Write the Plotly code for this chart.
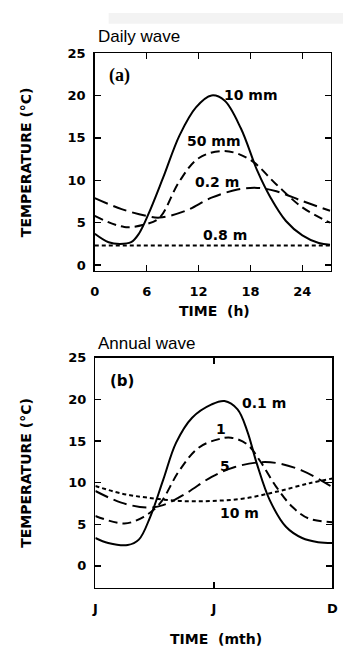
import plotly.graph_objects as go

W, H = 349, 651

# ---------------- Data: daily wave (hours, °C) ----------------
d10mm_x = [0, 1.6, 2.9, 4.2, 5.1, 6.2, 7.9, 9.8, 11.7, 13.5, 15.0, 16.9, 18.8, 20.3, 22.1, 24.0, 25.9, 27.2]
d10mm_y = [3.7, 2.7, 2.5, 2.7, 3.7, 6.0, 10.3, 15.3, 18.6, 20.0, 19.4, 16.1, 11.1, 8.0, 5.2, 3.5, 2.6, 2.4]

d50mm_x = [0, 3.4, 6.0, 7.5, 9.8, 12.0, 15.0, 18.0, 21.0, 24.0, 27.2]
d50mm_y = [5.8, 4.5, 4.85, 5.6, 9.9, 12.6, 13.45, 12.4, 9.5, 6.8, 5.0]

d02m_x = [0, 3.1, 6.0, 7.5, 10.5, 13.5, 16.5, 18.8, 21.0, 24.0, 27.2]
d02m_y = [7.9, 6.6, 5.8, 5.6, 6.4, 7.95, 8.9, 9.1, 8.7, 7.55, 6.4]

d08m_x = [0, 27.2]
d08m_y = [2.3, 2.3]

# ---------------- Data: annual wave (months, °C) ----------------
a01m_x = [0, 0.65, 1.64, 2.2, 2.78, 3.43, 4.09, 4.9, 5.89, 6.54, 7.2, 7.69, 8.18, 8.83, 9.65, 10.47, 11.28, 12]
a01m_y = [3.35, 2.75, 2.5, 3.15, 5.9, 10.3, 14.8, 17.8, 19.4, 19.8, 18.8, 16.2, 12.25, 7.9, 4.7, 3.35, 2.85, 2.75]

a1m_x = [0, 1.47, 2.45, 3.27, 4.25, 5.23, 6.21, 6.87, 7.69, 8.34, 9.16, 9.97, 10.79, 12]
a1m_y = [6.0, 5.1, 5.9, 7.5, 11.45, 14.2, 15.2, 15.4, 14.6, 12.6, 9.5, 7.1, 5.7, 5.25]

a5m_x = [0, 1.31, 2.62, 3.43, 4.58, 5.89, 7.03, 8.34, 9.32, 10.47, 11.45, 12]
a5m_y = [9.0, 7.6, 7.0, 7.3, 8.7, 10.7, 11.85, 12.45, 12.3, 11.45, 10.25, 9.45]

a10m_x = [0, 1.31, 2.62, 4.25, 5.89, 7.52, 9.16, 10.79, 12]
a10m_y = [9.6, 8.7, 8.2, 7.8, 7.8, 8.1, 8.9, 9.9, 10.5]

daily_ticks = [0, 6, 12, 18, 24]
annual_tickvals = [0, 6, 12]
annual_ticktext = ["J", "J", "D"]
y_ticks = [0, 5, 10, 15, 20, 25]


def px(x):
    return x / W


def py(y):
    return 1 - y / H


fig = go.Figure()

LW = 2.0
series_top = [
    (d10mm_x, d10mm_y, "solid"),
    (d50mm_x, d50mm_y, "9px,5px"),
    (d02m_x, d02m_y, "14px,6px"),
    (d08m_x, d08m_y, "4px,3px"),
]
for xs, ys, dash in series_top:
    fig.add_trace(go.Scatter(x=xs, y=ys, mode="lines", xaxis="x", yaxis="y",
                             line=dict(color="black", width=LW, dash=dash, shape="spline", smoothing=1.0),
                             showlegend=False, hoverinfo="skip"))

series_bot = [
    (a01m_x, a01m_y, "solid"),
    (a1m_x, a1m_y, "9px,5px"),
    (a5m_x, a5m_y, "14px,6px"),
    (a10m_x, a10m_y, "4px,3px"),
]
for xs, ys, dash in series_bot:
    fig.add_trace(go.Scatter(x=xs, y=ys, mode="lines", xaxis="x2", yaxis="y2",
                             line=dict(color="black", width=LW, dash=dash, shape="spline", smoothing=1.0),
                             showlegend=False, hoverinfo="skip"))

tickfont = dict(family="DejaVu Sans", size=13, color="black", weight="bold")
axis_common = dict(showline=True, linecolor="black", linewidth=1.5, mirror="ticks",
                   ticks="inside", ticklen=6, tickwidth=1.5, tickcolor="black",
                   showgrid=False, zeroline=False, tickfont=tickfont, fixedrange=True)

fig.update_layout(
    width=W, height=H,
    margin=dict(l=0, r=0, t=0, b=0),
    paper_bgcolor="white", plot_bgcolor="white",
    showlegend=False,
    xaxis=dict(domain=[px(92.7), px(336.5)], range=[0, 27.3], tickvals=daily_ticks,
               anchor="y", ticklabelstandoff=8, **axis_common),
    yaxis=dict(domain=[py(267.3), py(46.7)], range=[-0.65, 25], tickvals=y_ticks,
               anchor="x", ticklabelstandoff=5, **axis_common),
    xaxis2=dict(domain=[px(93.3), px(338)], range=[0, 12], tickvals=annual_tickvals,
                ticktext=annual_ticktext, anchor="y2", ticklabelstandoff=8, **axis_common),
    yaxis2=dict(domain=[py(589), py(355.7)], range=[-2.64, 25], tickvals=y_ticks,
                anchor="x2", ticklabelstandoff=5, **axis_common),
)

lab = dict(family="DejaVu Sans", size=14, color="black", weight="bold")
annotations = [
    # curve labels, top
    dict(x=18.1, y=20.1, xref="x", yref="y", text="10 mm", font=lab),
    dict(x=13.8, y=14.6, xref="x", yref="y", text="50 mm", font=lab),
    dict(x=14.1, y=9.8, xref="x", yref="y", text="0.2 m", font=lab),
    dict(x=15.1, y=3.6, xref="x", yref="y", text="0.8 m", font=lab),
    dict(x=2.87, y=22.3, xref="x", yref="y", text="(a)",
         font=dict(family="Liberation Serif", size=18, color="black", weight="bold")),
    # curve labels, bottom
    dict(x=8.53, y=19.55, xref="x2", yref="y2", text="0.1 m", font=lab),
    dict(x=6.35, y=16.5, xref="x2", yref="y2", text="1", font=lab),
    dict(x=6.54, y=12.05, xref="x2", yref="y2", text="5", font=lab),
    dict(x=7.28, y=6.4, xref="x2", yref="y2", text="10 m", font=lab),
    dict(x=1.34, y=22.2, xref="x2", yref="y2", text="(b)",
         font=dict(family="DejaVu Sans", size=15, color="black", weight="bold")),
    # panel titles
    dict(x=px(94), y=py(30), xref="paper", yref="paper", text="Daily wave", xanchor="left",
         font=dict(family="Liberation Sans", size=17, color="black")),
    dict(x=px(94), y=py(341), xref="paper", yref="paper", text="Annual wave", xanchor="left",
         font=dict(family="Liberation Sans", size=17, color="black")),
    # axis titles
    dict(x=px(216), y=py(308), xref="paper", yref="paper", text="TIME  (h)",
         font=dict(family="DejaVu Sans", size=14, color="black", weight="bold")),
    dict(x=px(218), y=py(641), xref="paper", yref="paper", text="TIME  (mth)",
         font=dict(family="DejaVu Sans", size=14, color="black", weight="bold")),
    dict(x=px(22), y=py(157), xref="paper", yref="paper", text="TEMPERATURE (°C)", textangle=-90,
         font=dict(family="DejaVu Sans", size=14, color="black", weight="bold")),
    dict(x=px(22), y=py(472), xref="paper", yref="paper", text="TEMPERATURE (°C)", textangle=-90,
         font=dict(family="DejaVu Sans", size=14, color="black", weight="bold")),
]
for a in annotations:
    a.setdefault("showarrow", False)
    a.setdefault("xanchor", "center")
    a.setdefault("yanchor", "middle")
fig.update_layout(annotations=annotations)

# faint grey band at the very top of the reference
fig.add_shape(type="rect", xref="paper", yref="paper", x0=px(107), x1=1, y0=py(17), y1=py(6),
              fillcolor="#f3f3f3", line=dict(width=0), layer="below")

fig.write_html("out.html", config={"displayModeBar": False, "staticPlot": True},
               post_script="document.body.style.margin='0px';document.body.style.overflow='hidden';")
